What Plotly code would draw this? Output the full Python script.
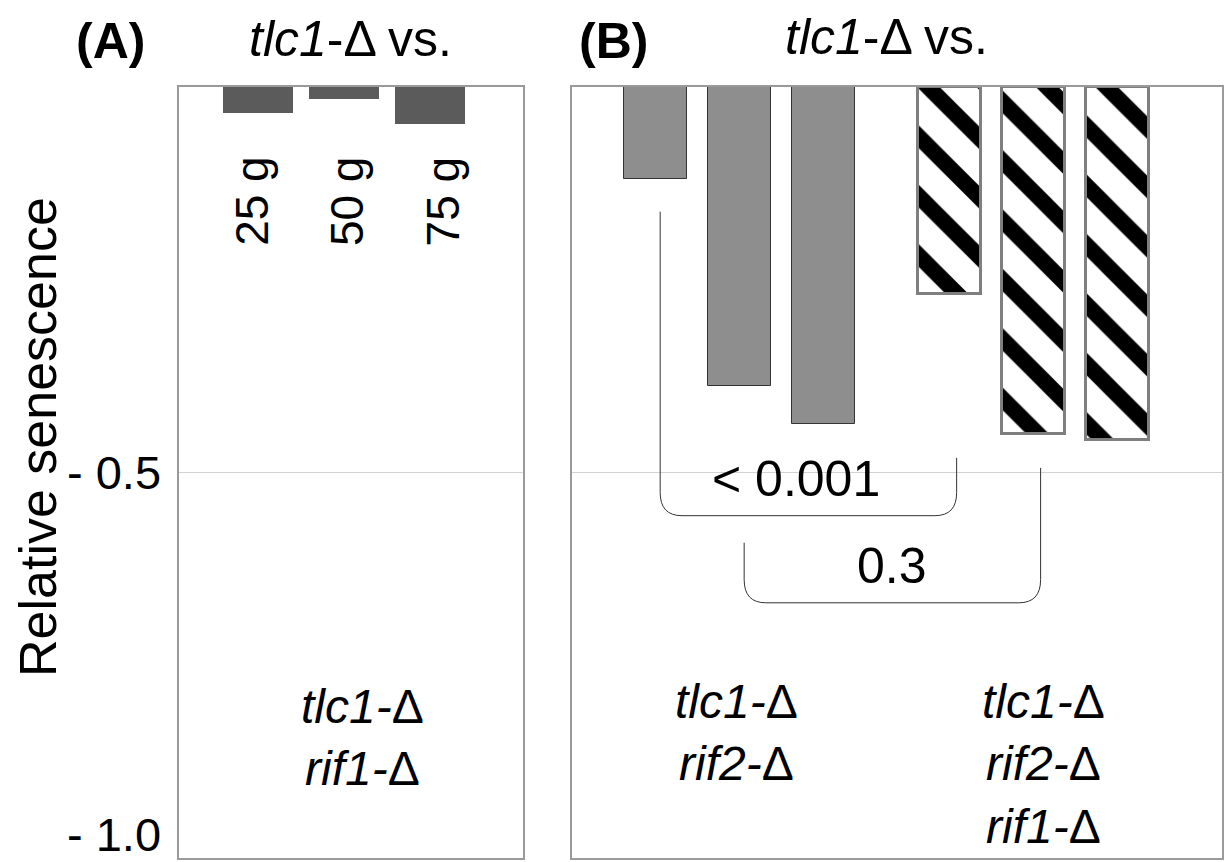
import plotly.graph_objects as go

# ---------------- data ----------------
grams = ["25 g", "50 g", "75 g"]
rif1_vals = [-0.034, -0.016, -0.048]          # tlc1-Δ rif1-Δ (panel A)
rif2_vals = [-0.119, -0.388, -0.437]          # tlc1-Δ rif2-Δ (panel B, grey)
rif2rif1_vals = [-0.268, -0.450, -0.458]      # tlc1-Δ rif2-Δ rif1-Δ (panel B, hatched)
y_ticks = [-0.5, -1.0]
y_ticktext = ["- 0.5", "- 1.0"]
p_values = ["< 0.001", "0.3"]
p_pairs = [(0, 0), (1, 1)]                     # grey bar index vs hatched bar index

FONT = "Liberation Sans, Arial, sans-serif"
W, H = 1226, 862

posA = [i + 1 for i in range(len(grams))]
posB_grey = [i + 1 for i in range(len(rif2_vals))]
posB_hatch = [p + 3.5 for p in posB_grey]

fig = go.Figure()

fig.add_trace(go.Bar(
    x=posA, y=rif1_vals, width=0.81, xaxis="x", yaxis="y",
    marker=dict(color="#5b5b5b", line=dict(width=0)), showlegend=False,
))
fig.add_trace(go.Bar(
    x=posB_grey, y=rif2_vals, width=0.75, xaxis="x2", yaxis="y2",
    marker=dict(color="#8e8e8e", line=dict(color="#333333", width=1)), showlegend=False,
))
fig.add_trace(go.Bar(
    x=posB_hatch, y=rif2rif1_vals, width=0.75, xaxis="x2", yaxis="y2",
    marker=dict(color="white", line=dict(color="#7f7f7f", width=3),
                pattern=dict(shape="\\", fgcolor="black", bgcolor="white",
                             fgopacity=1, fillmode="replace",
                             size=42, solidity=0.38)),
    showlegend=False,
))

ydom = [1 - 858 / H, 1 - 87 / H]
frame = dict(showline=True, mirror=True, linecolor="#9a9a9a", linewidth=2,
             zeroline=False, ticks="")
fig.update_layout(
    width=W, height=H, margin=dict(l=0, r=0, t=0, b=0),
    paper_bgcolor="white", plot_bgcolor="white",
    font=dict(family=FONT, color="black"),
    bargap=0,
    xaxis=dict(domain=[179 / W, 523 / W], range=[0.087, 4.075],
               showticklabels=False, showgrid=False, **frame),
    yaxis=dict(domain=ydom, range=[-1.0, 0], tickvals=y_ticks, showticklabels=False,
               showgrid=True, gridcolor="#d2d2d2", gridwidth=1, **frame),
    xaxis2=dict(domain=[572 / W, 1222 / W], range=[0, 7.74], anchor="y2",
                showticklabels=False, showgrid=False, **frame),
    yaxis2=dict(domain=ydom, range=[-1.0, 0], anchor="x2", matches="y",
                tickvals=y_ticks, showticklabels=False,
                showgrid=True, gridcolor="#d2d2d2", gridwidth=1, **frame),
)

ann = []
# y tick labels
for v, t in zip(y_ticks, y_ticktext):
    ann.append(dict(xref="paper", yref="y", x=163 / W, y=v, text=t, showarrow=False,
                    xanchor="right", yanchor="middle", yshift=24 if v == -1.0 else 0,
                    font=dict(size=47)))
# y axis title
ann.append(dict(xref="paper", yref="paper", x=38 / W, y=1 - 437 / H,
                text="Relative senescence", textangle=-90, showarrow=False,
                xanchor="center", yanchor="middle", font=dict(size=52)))
# panel titles
ann.append(dict(xref="paper", yref="paper", x=110 / W, y=1 - 41 / H, text="<b>(A)</b>",
                showarrow=False, xanchor="center", yanchor="middle", font=dict(size=50)))
ann.append(dict(xref="paper", yref="paper", x=350 / W, y=1 - 39 / H,
                text="<i>tlc1</i>-Δ vs.", showarrow=False, xanchor="center",
                yanchor="middle", font=dict(size=50)))
ann.append(dict(xref="paper", yref="paper", x=614 / W, y=1 - 41 / H, text="<b>(B)</b>",
                showarrow=False, xanchor="center", yanchor="middle", font=dict(size=50)))
ann.append(dict(xref="paper", yref="paper", x=886 / W, y=1 - 37 / H,
                text="<i>tlc1</i>-Δ vs.", showarrow=False, xanchor="center",
                yanchor="middle", font=dict(size=50)))
# gram labels (rotated)
gram_xshift = [-6, 3, 13]
for p, g, dx in zip(posA, grams, gram_xshift):
    ann.append(dict(xref="x", yref="y", x=p, y=-0.148, text=g, textangle=-90,
                    showarrow=False, xanchor="center", yanchor="middle", xshift=dx,
                    font=dict(size=46)))
# genotype labels
ann.append(dict(xref="x", yref="paper", x=posA[1] + 0.22, y=1 - 737 / H,
                text="<i>tlc1-</i>Δ<br><i>rif1-</i>Δ", showarrow=False,
                xanchor="center", yanchor="middle", font=dict(size=48)))
ann.append(dict(xref="x2", yref="paper", x=posB_grey[1] - 0.04, y=1 - 732 / H,
                text="<i>tlc1-</i>Δ<br><i>rif2-</i>Δ", showarrow=False,
                xanchor="center", yanchor="middle", font=dict(size=48)))
ann.append(dict(xref="x2", yref="paper", x=posB_hatch[1] + 0.12, y=1 - 764 / H,
                text="<i>tlc1-</i>Δ<br><i>rif2-</i>Δ<br><i>rif1-</i>Δ", showarrow=False,
                xanchor="center", yanchor="middle", font=dict(size=48)))

# significance brackets
bracket_geom = [  # (left top y, right top y, bottom y)
    (-0.1617, -0.481, -0.556),
    (-0.591, -0.494, -0.669),
]
rx, ry = 0.26, 0.03
shapes = []
for (gi, hi), (ylt, yrt, yb), txt in zip(p_pairs, bracket_geom, p_values):
    xl = posB_grey[gi] + 0.05
    xr = posB_hatch[hi] + 0.08
    path = (f"M {xl},{ylt} L {xl},{yb + ry} Q {xl},{yb} {xl + rx},{yb} "
            f"L {xr - rx},{yb} Q {xr},{yb} {xr},{yb + ry} L {xr},{yrt}")
    shapes.append(dict(type="path", xref="x2", yref="y2", path=path,
                       line=dict(color="#333333", width=1)))
    ann.append(dict(xref="x2", yref="y2", x=(xl + xr) / 2, y=yb, text=txt,
                    showarrow=False, xanchor="center", yanchor="middle", yshift=37,
                    xshift=-12 if txt.startswith("<") else 0,
                    font=dict(size=50)))

fig.update_layout(annotations=ann, shapes=shapes)
fig.write_html("out.html")
